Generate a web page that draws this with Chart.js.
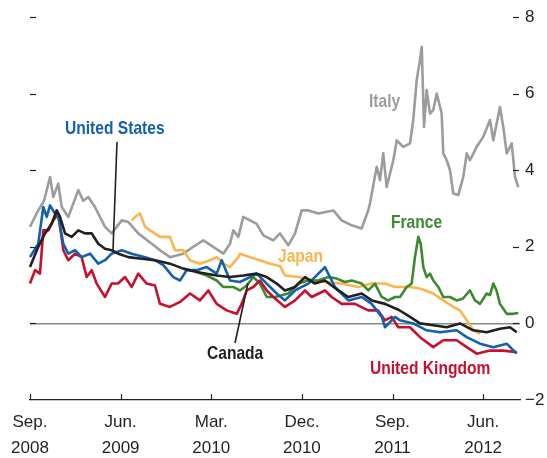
<!DOCTYPE html>
<html>
<head>
<meta charset="utf-8">
<script src="https://cdn.jsdelivr.net/npm/chart.js@4.4.1/dist/chart.umd.min.js"></script>
<style>
  html, body { margin: 0; padding: 0; background: #fff; }
  #wrap { width: 547px; height: 458px; }
</style>
</head>
<body>
<div id="wrap"><canvas id="chart" width="547" height="458"></canvas></div>
<script>
// x values are months counted from Sep. 2008
const tickMonths = [0, 9, 18, 27, 36, 45];
const tickLabels = [['Sep.', '2008'], ['Jun.', '2009'], ['Mar.', '2010'], ['Dec.', '2010'], ['Sep.', '2011'], ['Jun.', '2012']];
const yTicks = [-2, 0, 2, 4, 6, 8];

const italyMonths = [0, 0.82, 1.39, 1.99, 2.31, 2.81, 3.15, 3.8, 4.8, 5.29, 5.79, 6.45, 7.45, 8.11, 9.11, 9.76, 10.75, 12.09, 12.91, 13.9, 15.22, 16.22, 17.21, 18.2, 19.2, 19.86, 20.19, 20.69, 21.18, 21.85, 22.51, 23.17, 24.16, 24.83, 25.65, 26.32, 26.98, 27.64, 28.63, 30.12, 30.95, 31.95, 32.94, 33.59, 33.76, 34.43, 34.76, 35.08, 35.42, 36.08, 36.42, 37.07, 37.74, 38.06, 38.4, 38.73, 38.9, 39.13, 39.39, 39.72, 40.05, 40.39, 40.88, 41.04, 41.38, 41.71, 42.04, 42.53, 43.03, 43.37, 43.69, 44.36, 45.01, 45.68, 46.01, 46.67, 47.0, 47.34, 47.84, 48.16, 48.49];
const italyValues = [2.52, 2.95, 3.2, 3.82, 3.3, 3.65, 3.04, 2.78, 3.48, 3.2, 3.3, 3.04, 2.52, 2.35, 2.69, 2.65, 2.35, 2.08, 1.91, 1.73, 1.82, 2.0, 2.17, 2.0, 1.82, 2.08, 2.43, 2.26, 2.78, 2.69, 2.6, 2.3, 2.17, 2.35, 2.04, 2.35, 2.95, 2.95, 2.87, 2.95, 2.69, 2.56, 2.48, 2.95, 3.13, 4.09, 3.74, 4.44, 3.56, 4.26, 4.78, 4.61, 4.7, 5.31, 6.35, 6.88, 7.22, 5.13, 6.09, 5.48, 5.57, 6.0, 5.48, 4.44, 4.26, 4.0, 3.39, 3.35, 3.83, 4.44, 4.26, 4.61, 4.87, 5.31, 4.78, 5.65, 5.13, 4.44, 4.7, 3.83, 3.56];

const canadaMonths = [0, 0.82, 1.49, 2.15, 2.65, 2.98, 3.48, 4.14, 4.8, 5.46, 6.13, 6.78, 7.45, 8.11, 8.77, 9.76, 11.09, 12.41, 13.9, 15.22, 16.55, 18.54, 19.86, 21.18, 22.51, 23.51, 24.5, 25.32, 26.32, 27.31, 28.3, 29.29, 30.62, 31.61, 32.94, 33.93, 35.25, 36.64, 37.74, 38.73, 40.05, 41.38, 42.7, 44.02, 45.35, 46.67, 47.67, 48.33];
const canadaValues = [1.47, 2.0, 2.35, 2.6, 2.95, 2.78, 2.35, 2.26, 2.43, 2.35, 2.35, 2.08, 1.95, 1.91, 1.82, 1.73, 1.69, 1.65, 1.56, 1.43, 1.34, 1.25, 1.21, 1.25, 1.3, 1.21, 1.04, 0.86, 0.95, 1.21, 1.04, 1.12, 0.86, 0.69, 0.78, 0.6, 0.51, 0.35, 0.17, 0, -0.05, -0.1, 0, -0.18, -0.23, -0.14, -0.1, -0.23];

const usMonths = [0, 0.82, 1.32, 1.66, 1.99, 2.48, 2.81, 3.31, 3.8, 4.47, 5.13, 5.96, 6.78, 7.45, 8.11, 9.11, 10.1, 11.42, 12.41, 13.24, 14.23, 14.9, 15.56, 16.55, 17.55, 18.54, 19.04, 19.86, 20.85, 21.85, 22.51, 23.51, 24.5, 25.32, 26.32, 27.64, 29.29, 30.29, 31.61, 32.94, 33.93, 34.93, 35.25, 36.25, 36.74, 38.06, 39.39, 40.71, 42.37, 43.37, 44.69, 46.01, 47.34, 48.33];
const usValues = [1.73, 2.08, 3.04, 2.78, 3.08, 2.87, 2.78, 2.08, 1.82, 1.91, 1.73, 1.82, 1.56, 1.65, 1.82, 1.91, 1.82, 1.73, 1.65, 1.52, 1.21, 1.12, 1.39, 1.39, 1.47, 1.3, 1.65, 1.12, 1.08, 1.21, 1.3, 1.04, 0.78, 0.6, 0.86, 1.04, 1.47, 0.95, 0.6, 0.69, 0.51, 0.17, -0.1, 0.17, 0.08, 0, -0.18, -0.23, -0.18, -0.36, -0.53, -0.62, -0.53, -0.79];

const ukMonths = [0, 0.5, 0.99, 1.32, 1.82, 2.31, 2.81, 3.31, 3.8, 4.47, 5.13, 5.63, 6.13, 6.62, 7.45, 8.11, 8.74, 9.43, 10.1, 10.75, 11.59, 12.41, 12.91, 13.9, 14.9, 15.89, 16.88, 17.71, 18.54, 19.53, 20.53, 21.02, 21.52, 22.17, 22.84, 23.51, 24.16, 25.32, 26.32, 27.31, 27.97, 29.29, 29.96, 30.95, 32.27, 33.59, 34.56, 35.25, 35.92, 36.57, 37.74, 38.73, 40.05, 41.04, 42.37, 43.37, 44.36, 45.68, 47.0, 48.33];
const ukValues = [1.04, 1.39, 1.3, 2.43, 2.43, 2.69, 2.87, 1.91, 1.65, 1.82, 1.73, 1.21, 1.39, 1.04, 0.69, 1.04, 1.04, 1.21, 0.95, 1.3, 1.04, 0.99, 0.51, 0.43, 0.56, 0.78, 0.6, 0.86, 0.51, 0.34, 0.25, 0.51, 0.86, 0.95, 1.12, 0.86, 0.69, 0.43, 0.6, 0.86, 0.69, 0.86, 0.69, 0.51, 0.51, 0.34, 0.34, 0.08, 0.17, -0.1, -0.1, -0.36, -0.62, -0.44, -0.44, -0.62, -0.79, -0.71, -0.71, -0.75];

const japanMonths = [10.1, 10.53, 10.92, 11.42, 11.92, 12.91, 13.9, 14.4, 15.22, 15.89, 16.88, 17.87, 18.54, 19.2, 19.86, 20.69, 20.85, 21.85, 22.84, 23.83, 24.83, 25.32, 26.64, 28.3, 29.29, 30.95, 32.6, 33.93, 35.25, 36.25, 37.74, 38.73, 40.05, 41.04, 42.04, 42.7, 43.37, 44.02, 44.69];
const japanValues = [2.69, 2.8, 2.87, 2.52, 2.43, 2.26, 2.26, 1.91, 1.91, 1.65, 1.56, 1.65, 1.73, 1.56, 1.47, 1.73, 1.82, 1.73, 1.65, 1.56, 1.5, 1.25, 1.21, 1.12, 1.08, 1.04, 0.95, 1.04, 1.04, 0.95, 0.95, 0.91, 0.78, 0.6, 0.43, 0.34, 0.08, -0.18, -0.27];

const franceMonths = [16.55, 17.55, 18.54, 19.2, 20.19, 20.85, 21.52, 22.17, 22.84, 23.51, 24.33, 25.65, 26.64, 27.64, 28.63, 29.62, 30.46, 31.28, 31.95, 32.94, 33.59, 34.26, 34.93, 35.58, 36.25, 36.74, 37.41, 37.9, 38.23, 38.56, 38.8, 39.06, 39.39, 39.72, 40.05, 40.55, 41.04, 41.71, 42.37, 43.0, 43.69, 44.19, 44.69, 45.35, 45.68, 46.01, 46.33, 46.67, 47.34, 48.0, 48.49];
const franceValues = [1.34, 1.25, 1.12, 0.95, 0.95, 0.86, 0.99, 1.21, 1.04, 0.69, 0.69, 0.78, 1.04, 1.12, 1.12, 1.21, 1.17, 1.08, 1.12, 1.04, 0.86, 1.04, 0.69, 0.6, 0.69, 0.69, 0.95, 1.04, 1.73, 2.26, 2.08, 1.47, 1.21, 1.3, 1.12, 0.95, 0.69, 0.69, 0.6, 0.65, 0.86, 0.6, 0.51, 0.78, 0.74, 1.04, 0.86, 0.51, 0.25, 0.25, 0.27];

const FONT = '"Liberation Sans", Arial, sans-serif';
Chart.defaults.font.family = FONT;
Chart.defaults.color = '#231f20';

function toPoints(months, values) {
  return months.map((m, i) => ({ x: m, y: values[i] }));
}

function series(label, months, values, color) {
  return {
    label: label,
    data: toPoints(months, values),
    borderColor: color,
    borderWidth: 2.6,
    pointRadius: 0,
    tension: 0,
    borderJoinStyle: 'round',
    clip: false
  };
}

// text labels and leader lines drawn over the lines
const callouts = [
  { text: 'United States', color: '#1560ae', x: 65, y: 134 },
  { text: 'Italy', color: '#9b9c9f', x: 369, y: 107 },
  { text: 'France', color: '#3b8a2f', x: 391, y: 228 },
  { text: 'Japan', color: '#fbb54c', x: 278, y: 262 },
  { text: 'Canada', color: '#231f20', x: 207, y: 359 },
  { text: 'United Kingdom', color: '#c8102e', x: 370, y: 374 }
];
const leaders = [
  [117, 142, 113, 250],
  [235, 343, 248, 283]
];

const marks = {
  id: 'marks',
  afterDatasetsDraw(chart) {
    const { ctx, chartArea: a, scales: { x, y } } = chart;
    ctx.save();
    ctx.strokeStyle = '#231f20';
    ctx.lineWidth = 1.2;
    const seg = (x1, y1, x2, y2) => { ctx.beginPath(); ctx.moveTo(x1, y1); ctx.lineTo(x2, y2); ctx.stroke(); };
    yTicks.forEach(v => {
      if (v === -2) return;
      const py = Math.round(y.getPixelForValue(v)) + 0.5;
      seg(a.left, py, a.left + 6, py);
      seg(a.right - 7, py, a.right - 1, py);
    });
    tickMonths.forEach(m => {
      const px = Math.round(x.getPixelForValue(m)) + 0.5;
      seg(px, a.bottom, px, a.bottom - 6);
    });
    ctx.lineWidth = 1.6;
    leaders.forEach(l => seg(l[0], l[1], l[2], l[3]));
    // condensed bold look: squeeze the text horizontally
    ctx.font = 'bold 19px ' + FONT;
    ctx.textBaseline = 'alphabetic';
    ctx.textAlign = 'left';
    callouts.forEach(c => {
      ctx.save();
      ctx.translate(c.x, c.y);
      ctx.scale(0.82, 1);
      ctx.fillStyle = c.color;
      ctx.fillText(c.text, 0, 0);
      ctx.restore();
    });
    ctx.restore();
  }
};

new Chart(document.getElementById('chart'), {
  type: 'line',
  data: {
    datasets: [
      series('Canada', canadaMonths, canadaValues, '#231f20'),
      series('United States', usMonths, usValues, '#1560ae'),
      series('United Kingdom', ukMonths, ukValues, '#c8102e'),
      series('France', franceMonths, franceValues, '#3b8a2f'),
      series('Japan', japanMonths, japanValues, '#fbb54c'),
      series('Italy', italyMonths, italyValues, '#9b9c9f')
    ]
  },
  options: {
    responsive: false,
    animation: false,
    layout: { padding: { top: 17, left: 30, right: 0, bottom: 0 } },
    plugins: { legend: { display: false }, tooltip: { enabled: false } },
    scales: {
      x: {
        type: 'linear',
        min: 0,
        max: 48.66,
        afterFit: s => { s.height = 58; },
        afterBuildTicks: s => { s.ticks = tickMonths.map(v => ({ value: v })); },
        grid: { display: true, drawOnChartArea: false, drawTicks: false },
        border: { display: true, color: '#231f20', width: 1.2 },
        ticks: {
          padding: 9,
          maxRotation: 0,
          autoSkip: false,
          font: { size: 17, lineHeight: 1.53 },
          color: '#231f20',
          callback: (v) => tickLabels[tickMonths.indexOf(v)]
        }
      },
      y: {
        position: 'right',
        min: -2,
        max: 8,
        afterFit: s => { s.width = 27; },
        afterBuildTicks: s => { s.ticks = yTicks.map(v => ({ value: v })); },
        grid: {
          drawTicks: false,
          lineWidth: 1.5,
          color: c => (c.tick && c.tick.value === 0 ? '#8a8a8a' : 'rgba(0,0,0,0)')
        },
        border: { display: false },
        ticks: {
          padding: 5,
          font: { size: 17 },
          color: '#231f20',
          callback: v => (v < 0 ? '\u2212' + Math.abs(v) : String(v))
        }
      }
    }
  },
  plugins: [marks]
});
</script>
</body>
</html>
